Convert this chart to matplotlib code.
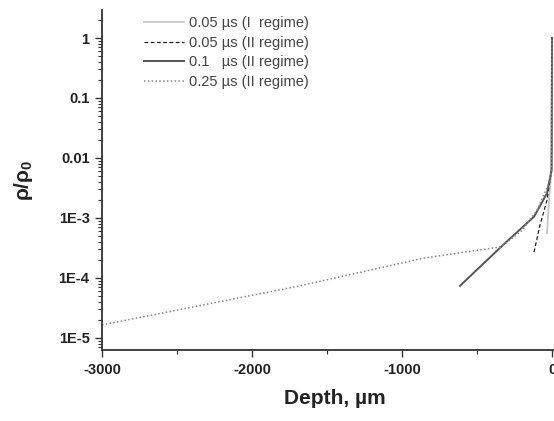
import matplotlib.pyplot as plt
import matplotlib as mpl
from matplotlib.ticker import MultipleLocator, LogLocator, NullFormatter
mpl.rcParams.update({'font.family': ['Liberation Sans', 'DejaVu Sans'],
                     'mathtext.fontset': 'custom',
                     'mathtext.rm': 'Liberation Sans',
                     'mathtext.it': 'Liberation Sans:italic',
                     'mathtext.bf': 'Liberation Sans:bold',
                     'axes.spines.right': False,
                     'axes.spines.top': False})

# density profiles vs depth (um), rho/rho0
depth_I_005 = [-33, -20, -3, 0]
rho_I_005 = [5.6e-4, 2.0e-3, 6.3e-3, 1.0]

depth_II_005 = [-120, -80, -33, -3, 0]
rho_II_005 = [2.7e-4, 7.6e-4, 2.0e-3, 6.3e-3, 1.0]

depth_II_01 = [-613, -340, -120, -33, -3, 0]
rho_II_01 = [7.4e-5, 3.3e-4, 1.05e-3, 2.6e-3, 6.3e-3, 1.0]

depth_II_025 = [-3000, -1680, -853, -340, -200, -100, -27, -3, 0]
rho_II_025 = [1.65e-5, 7.4e-5, 2.15e-4, 3.3e-4, 6.2e-4, 1.35e-3, 3.5e-3, 6.3e-3, 1.0]

labels = ['0.05 \u00b5s (I  regime)', '0.05 \u00b5s (II regime)',
          '0.1   \u00b5s (II regime)', '0.25 \u00b5s (II regime)']

yticks = [1e-5, 1e-4, 1e-3, 1e-2, 1e-1, 1]
yticklabels = ['1E-5', '1E-4', '1E-3', '0.01', '0.1', '1']
xticks = [-3000, -2000, -1000, 0]

#%%
fig = plt.figure(figsize=(5.54, 4.21), dpi=100)
ax = fig.add_axes([102/554, 71/421, 465/554, 340/421])

ax.plot(depth_I_005, rho_I_005, color='#c8c8c8', lw=1.3, label=labels[0])
ax.plot(depth_II_005, rho_II_005, color='#222222', lw=0.9, ls=(0, (3, 2)), label=labels[1])
ax.plot(depth_II_01, rho_II_01, color='#555555', lw=1.4, label=labels[2])
ax.plot(depth_II_025, rho_II_025, color='#888888', lw=1.1, ls=(0, (1, 1.5)), label=labels[3])

ax.set_yscale('log')
ax.set_xlim(-3000, 100)
ax.set_ylim(6.3e-6, 2.93)

ax.set_xticks(xticks)
ax.set_xticklabels([str(v) for v in xticks])
ax.xaxis.set_minor_locator(MultipleLocator(500))
ax.set_yticks(yticks)
ax.set_yticklabels(yticklabels)
ax.yaxis.set_minor_locator(LogLocator(base=10, subs=range(2, 10), numticks=20))
ax.yaxis.set_minor_formatter(NullFormatter())

for lab in ax.get_xticklabels() + ax.get_yticklabels():
    lab.set_fontweight('bold')
    lab.set_fontsize(10.5)
    lab.set_color('#222222')
ax.tick_params(which='major', length=5, width=1.0, color='#333333', pad=4)
ax.tick_params(which='minor', length=3, width=0.8, color='#333333')
for s in ['left', 'bottom']:
    ax.spines[s].set_linewidth(1.3)
    ax.spines[s].set_color('#333333')

ax.set_xlabel('Depth, \u00b5m', fontsize=15, fontweight='bold', color='#222222', labelpad=9)
ax.set_ylabel(r'$\mathbf{\rho/\rho_0}$', fontsize=15, color='#222222', labelpad=17)

leg = ax.legend(loc='upper left', bbox_to_anchor=(0.069, 1.012), frameon=False,
                fontsize=10.5, handlelength=2.7, handletextpad=0.35, labelspacing=0.38,
                borderaxespad=0.3)
for t in leg.get_texts():
    t.set_color('#444444')

plt.savefig('out.png', dpi=100)
